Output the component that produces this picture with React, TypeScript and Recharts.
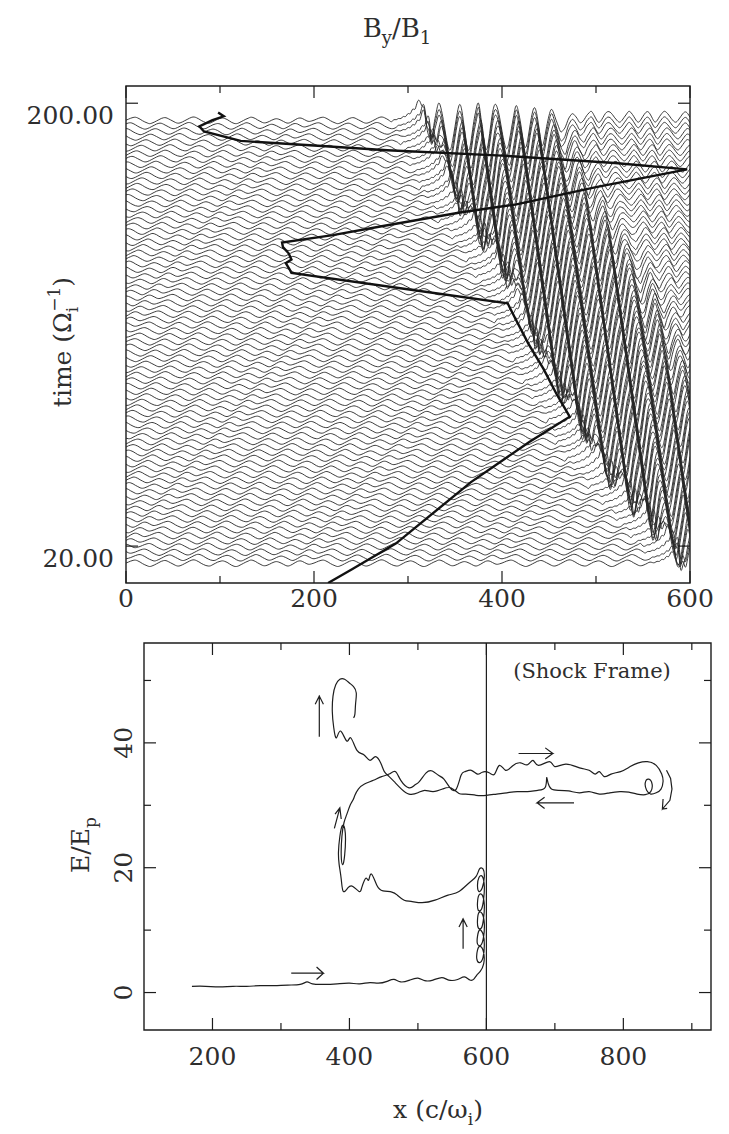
import React from "react";
import {
  LineChart,
  Line,
  XAxis,
  YAxis,
  ReferenceArea,
  ReferenceLine,
} from "recharts";

const INK = "#1c1c1c";
const TEXT = "#2e2e2e";
const SERIF = "'DejaVu Serif', serif";

// ---------- top panel: stack of B_y/B_1 snapshots ----------
// snapshot times (1/Omega_i), bottom to top
const TRACE_TIMES = [
  20, 22.25, 24.5, 26.75, 29, 31.25, 33.5, 35.75, 38, 40.25,
  42.5, 44.75, 47, 49.25, 51.5, 53.75, 56, 58.25, 60.5, 62.75,
  65, 67.25, 69.5, 71.75, 74, 76.25, 78.5, 80.75, 83, 85.25,
  87.5, 89.75, 92, 94.25, 96.5, 98.75, 101, 103.25, 105.5, 107.75,
  110, 112.25, 114.5, 116.75, 119, 121.25, 123.5, 125.75, 128, 130.25,
  132.5, 134.75, 137, 139.25, 141.5, 143.75, 146, 148.25, 150.5, 152.75,
  155, 157.25, 159.5, 161.75, 164, 166.25, 168.5, 170.75, 173, 175.25,
  177.5, 179.75, 182, 184.25, 186.5, 188.75, 191, 193.25, 195.5, 197.75,
  200,
];
// each snapshot is drawn a little below its time tick
const TRACE_LIFT = -7;
// x where each snapshot starts to rise into the shock (foot)
const FRONT_X = [
  560, 560, 555, 550, 545, 540, 535, 530, 525, 520,
  515, 510, 505, 500, 495, 490, 485, 480, 475, 470,
  465, 465, 460, 460, 455, 455, 450, 445, 445, 440,
  435, 435, 430, 425, 420, 420, 415, 415, 410, 410,
  405, 405, 400, 400, 395, 395, 390, 390, 385, 385,
  380, 380, 375, 370, 370, 365, 360, 355, 355, 350,
  345, 340, 335, 330, 330, 325, 320, 320, 315, 315,
  310, 310, 305, 305, 300, 300, 295, 295, 290, 290,
  285,
];
// upstream ripple, one value every 2.5 c/omega_i (drawn in time units)
const UPSTREAM_RIPPLE = [
  0.1, 0.5, 0.9, 1.2, 1.3, 1.0, 0.5, -0.1, -0.6, -1.0,
  -1.3, -1.1, -0.7, -0.2, 0.3, 0.8, 1.1, 1.1, 0.7, 0.2,
  -0.3, -0.8, -1.1, -1.0, -0.6, -0.1, 0.4, 0.9, 1.3, 1.4,
  1.1, 0.6, 0.0, -0.5, -0.9, -1.1, -1.0, -0.5, 0.0, 0.5,
  0.8, 1.0, 0.8, 0.4, -0.2, -0.8, -1.2, -1.3, -1.0, -0.5,
  0.0, 0.5, 0.9, 1.3, 1.2, 0.8, 0.2, -0.3, -0.8, -1.0,
  -0.8, -0.4, 0.1, 0.5, 0.7, 0.5, 0.1, -0.4, -0.9, -1.1,
  -0.8, -0.3, 0.3, 0.8, 1.0, 0.8, 0.3, -0.2, -0.4, -0.2,
];
const RIPPLE_DRIFT = 2; // samples per snapshot
// mean level behind the foot, one value every 5 c/omega_i
const SHOCK_LEVEL = [
  0.3, 0.8, 1.6, 2.8, 4.6, 7.5, 3.0, -1.0, -2.0, -2.5,
  -2.5, -2.5, -2.5, -2.5, -2.5, -2.5, -2.5, -2.5, -2.5, -2.5,
  -2.5, -2.5, -2.5, -2.5, -2.5, -2.5, -2.5, -2.5, -2.5, -2.5,
  -2.5, -2.5, -2.5, -2.0, -1.5, -1.0, -0.5, 0.0, 0.5, 1.0,
  1.5, 1.5, 1.5, 1.5, 1.5, 1.5, 1.5, 1.5, 1.5, 1.5,
  1.5, 1.5, 1.5, 1.5, 1.5, 1.5, 1.5, 1.5, 1.5, 1.5,
  1.5, 1.5, 1.5, 1.5, 1.5, 1.5, 1.5,
];
// half swing of the downstream wave behind the foot
const SHOCK_SWING = [
  0, 0, 0, 0, 0, 0.5, 3.0, 6.0, 8.5, 9.5,
  9.5, 10, 9.5, 9.5, 10, 9.5, 9.5, 10, 9.5, 9.0,
  9.5, 9.5, 9.0, 9.5, 9.0, 9.0, 8.5, 9.0, 8.5, 8.5,
  8.0, 8.0, 7.5, 6.5, 5.5, 4.5, 3.5, 3.0, 2.5, 2.2,
  2.2, 2.2, 2.2, 2.2, 2.2, 2.2, 2.2, 2.2, 2.2, 2.2,
  2.2, 2.2, 2.2, 2.2, 2.2, 2.2, 2.2, 2.2, 2.2, 2.2,
  2.2, 2.2, 2.2, 2.2, 2.2, 2.2, 2.2,
];
// downstream wave shape, one value every 2.5 c/omega_i, drifting slowly left
const DOWNSTREAM_WAVE = [
  1.0, 0.7, 0.1, -0.6, -1.0, -0.6, 0.1, 0.7,
  0.95, 0.5, -0.3, -0.95, -0.7, 0.0, 0.6,
  1.0, 0.8, 0.3, -0.3, -0.8, -1.0, -0.6, 0.0, 0.6,
  0.9, 0.6, -0.1, -0.8, -1.0, -0.5, 0.2, 0.7,
  1.0, 0.4, -0.4, -1.0, -0.8, -0.1, 0.6,
  0.95, 0.85, 0.4, -0.2, -0.7, -1.0, -0.7, -0.1, 0.5,
];
const WAVE_DRIFT_EVERY = 3; // snapshots per 2.5 c/omega_i of drift
const X_STEP = 2.5;
const LEVEL_STEP = 5;
const X_MAX = 600;
// ion orbit x(t), [x, t]
const ORBIT_XT = [
  [215, 5], [240, 10.5], [287, 21], [367, 46], [429, 62.3], [472, 72.6],
  [458, 81.8], [444, 92.1], [428, 102.3], [414, 112.6], [406, 118.7],
  [290, 124.9], [176, 131], [174, 132.5], [170, 135], [176, 136.5],
  [173, 139], [167, 141.5], [166, 143.4], [220, 146.4], [272, 150],
  [357, 155.7], [414, 158.8], [500, 165.9], [597, 173.1], [520, 175.7],
  [400, 178.7], [278, 180.9], [200, 182.8], [122, 184.7], [83, 188.5],
  [78, 190.6], [92, 193.1], [104, 194.7], [98, 196.2],
];
const TOP_X_TICKS = [0, 100, 200, 300, 400, 500, 600];
const TOP_X_MAJOR = [0, 200, 400, 600];
const TOP_T_TICKS = [20, 200];

// ---------- bottom panel: E/E_p vs x in the shock frame ----------
const ENERGY_PATH = [
  [170, 1.0], [190, 1.0], [210, 0.9], [230, 1.0], [250, 1.0], [270, 1.1],
  [290, 1.1], [310, 1.2], [328, 1.3], [338, 1.7], [346, 1.4], [362, 1.3],
  [382, 1.4], [400, 1.5], [415, 1.4], [430, 1.6], [442, 1.5], [455, 1.8],
  [465, 2.1], [475, 1.7], [488, 2.0], [500, 2.3], [510, 1.9], [522, 2.0],
  [535, 2.4], [545, 2.0], [558, 2.1], [568, 2.5], [576, 2.0], [582, 2.2],
  [586, 2.8], [591, 3.4], [596, 4.6], [596, 6.4], [591, 7.4], [587, 6.8],
  [586, 5.4], [590, 4.8], [595, 5.6], [597, 7.6], [595, 9.4], [590, 10.0],
  [587, 9.0], [587, 7.8], [592, 7.6], [596, 9.0], [597, 11.0], [594, 12.6],
  [589, 12.8], [587, 11.6], [588, 10.4], [593, 10.4], [596, 12.0], [597, 14.0],
  [594, 15.6], [589, 15.6], [587, 14.4], [588, 13.2], [593, 13.4], [596, 15.0],
  [597, 17.0], [594, 18.6], [589, 18.4], [587, 17.2], [589, 16.2], [594, 16.8],
  [597, 18.6], [595, 19.8], [590, 19.8],
  [585, 18.6], [575, 17.6], [560, 16.2], [544, 15.6], [525, 14.8], [506, 14.4],
  [490, 14.6], [480, 14.8], [470, 15.6], [462, 16.1], [449, 16.3], [440, 17.2],
  [432, 19.0], [428, 18.0], [424, 18.3], [418, 16.8], [414, 16.2], [405, 17.0],
  [398, 16.8], [391, 16.2], [388, 18.2], [385, 20.5],
  [384, 22.5], [386, 25.0], [390, 26.8], [394, 25.5], [393, 22.0], [390, 20.5],
  [388, 22.0], [389, 25.0], [392, 27.2],
  [396, 28.5], [401, 30.0], [405, 30.8], [408, 31.6], [413, 32.6], [422, 33.4],
  [435, 34.0], [447, 34.6],
  [458, 35.0], [467, 35.4], [475, 34.0], [487, 32.8], [495, 33.2], [502, 33.8],
  [512, 35.2], [521, 35.5], [530, 34.8], [538, 34.2], [547, 32.8], [556, 32.6],
  [563, 34.8], [569, 35.4], [578, 35.6], [587, 35.0], [594, 35.3], [604, 35.2],
  [612, 35.0], [619, 36.4], [628, 35.6], [638, 36.3], [650, 36.8], [660, 36.5],
  [668, 37.2], [676, 36.4], [692, 37.0], [700, 36.2], [716, 36.6], [736, 36.0],
  [750, 35.6], [759, 35.0], [765, 35.4], [772, 34.6], [782, 35.0], [796, 35.4],
  [810, 36.2], [822, 36.8], [835, 37.0], [848, 36.4], [856, 35.0],
  [858, 33.8], [855, 32.6], [848, 32.0], [840, 31.8], [834, 32.4], [832, 33.6],
  [837, 34.2], [842, 33.4], [840, 32.2], [832, 31.7], [820, 31.8], [808, 32.1],
  [795, 32.2], [780, 32.0], [765, 31.8], [750, 32.2], [736, 32.0], [720, 32.3],
  [705, 32.4], [695, 32.6], [690, 33.6], [688, 34.4], [686, 32.9], [675, 32.4],
  [660, 32.2], [645, 32.2], [630, 32.0], [615, 31.8], [600, 31.6], [585, 31.6],
  [570, 31.8], [560, 31.9], [548, 32.8], [536, 32.6], [522, 32.2], [510, 32.4],
  [500, 32.0], [487, 31.8], [476, 32.6], [467, 33.6], [458, 34.6], [451, 35.4],
  [446, 36.7], [438, 37.8], [430, 37.2], [421, 38.1], [411, 38.8], [402, 40.8],
  [396, 40.3], [387, 41.9], [381, 40.8], [377, 42.5],
  [375, 45.0], [376, 47.5], [380, 49.3], [386, 50.2], [393, 50.2], [400, 49.6],
  [406, 49.0], [410, 48.0], [409, 46.3], [408, 44.6], [406, 44.0],
];
// direction arrows drawn on the orbit, [x, E] polylines
const ARROWS = [
  [[315, 3.1], [362, 3.1], [352, 4.1], [362, 3.1], [352, 2.1]],
  [[566, 7.0], [566, 11.8], [560, 10.5], [566, 11.8], [572, 10.5]],
  [[378, 26.3], [386, 29.6], [379, 28.6], [386, 29.6], [388, 27.8]],
  [[356, 41.0], [356, 47.5], [350, 46.2], [356, 47.5], [362, 46.2]],
  [[647, 38.3], [697, 38.3], [686, 39.2], [697, 38.3], [686, 37.4]],
  [[728, 30.4], [674, 30.4], [685, 31.3], [674, 30.4], [685, 29.5]],
  [[863, 35.6], [869, 34.3], [871, 32.6], [868, 30.8], [857, 29.4], [858, 31.0], [857, 29.4], [864, 29.5]],
];
const SHOCK_X = 600;
const BOTTOM_X_TICKS = [200, 300, 400, 500, 600, 700, 800, 900];
const BOTTOM_X_MAJOR = [200, 400, 600, 800];
const BOTTOM_E_TICKS = [0, 10, 20, 30, 40, 50];
const BOTTOM_E_MAJOR = [0, 20, 40];

// plot boxes in each chart's own pixel frame
const TOP_BOX = { left: 126, right: 690, top: 86, bottom: 583 };
const BOT_BOX = { left: 144, right: 711, top: 43, bottom: 430 };
const BOT_OFFSET = 600;

const xs: number[] = [];
for (let x = 0; x <= X_MAX; x += X_STEP) xs.push(x);

const wrap = (k: number, n: number) => ((k % n) + n) % n;

const traces = TRACE_TIMES.map((t, i) =>
  xs.map((x, k) => {
    let v;
    if (x < FRONT_X[i]) {
      v = UPSTREAM_RIPPLE[wrap(k - RIPPLE_DRIFT * i, UPSTREAM_RIPPLE.length)];
    } else {
      const j = Math.min(Math.floor((x - FRONT_X[i]) / LEVEL_STEP), SHOCK_LEVEL.length - 1);
      const shift = Math.floor(i / WAVE_DRIFT_EVERY);
      const w = DOWNSTREAM_WAVE[wrap(k + shift, DOWNSTREAM_WAVE.length)];
      v = SHOCK_LEVEL[j] + SHOCK_SWING[j] * w;
    }
    return { x, y: t + TRACE_LIFT + v };
  })
);
const orbit = ORBIT_XT.map(([x, t]) => ({ x, y: t }));
const energy = ENERGY_PATH.map(([x, e]) => ({ x, y: e }));
const arrows = ARROWS.map((a) => a.map(([x, e]) => ({ x, y: e })));

const xTick = (box: any, majors: number[], labelY: number) => (props: any) => {
  const { x, payload } = props;
  const v = payload.value;
  const len = majors.includes(v) ? 12 : 7;
  return (
    <g>
      <line x1={x} x2={x} y1={box.bottom} y2={box.bottom - len} stroke={INK} strokeWidth={1.2} />
      <line x1={x} x2={x} y1={box.top} y2={box.top + len} stroke={INK} strokeWidth={1.2} />
      {majors.includes(v) && (
        <text x={x} y={labelY} textAnchor="middle" fontFamily={SERIF} fontSize={25} fill={TEXT}>
          {v}
        </text>
      )}
    </g>
  );
};

const topYTick = (props: any) => {
  const { y, payload } = props;
  return (
    <g>
      <line x1={TOP_BOX.left} x2={TOP_BOX.left + 12} y1={y} y2={y} stroke={INK} strokeWidth={1.2} />
      <line x1={TOP_BOX.right} x2={TOP_BOX.right - 12} y1={y} y2={y} stroke={INK} strokeWidth={1.2} />
      <text x={TOP_BOX.left - 12} y={y + 21} textAnchor="end" fontFamily={SERIF} fontSize={25} fill={TEXT}>
        {payload.value.toFixed(2)}
      </text>
    </g>
  );
};

const botYTick = (props: any) => {
  const { y, payload } = props;
  const v = payload.value;
  const major = BOTTOM_E_MAJOR.includes(v);
  const len = major ? 12 : 7;
  return (
    <g>
      <line x1={BOT_BOX.left} x2={BOT_BOX.left + len} y1={y} y2={y} stroke={INK} strokeWidth={1.2} />
      <line x1={BOT_BOX.right} x2={BOT_BOX.right - len} y1={y} y2={y} stroke={INK} strokeWidth={1.2} />
      {major && (
        <text
          transform={`translate(${BOT_BOX.left - 21}, ${y}) rotate(-90)`}
          textAnchor="middle"
          dy="0.36em"
          fontFamily={SERIF}
          fontSize={25}
          fill={TEXT}
        >
          {v}
        </text>
      )}
    </g>
  );
};

const StackPanel = () => (
  <LineChart width={729} height={640} margin={{ top: 86, right: 39, left: 0, bottom: 0 }}>
    <XAxis
      dataKey="x"
      type="number"
      domain={[0, 600]}
      ticks={TOP_X_TICKS}
      interval={0}
      allowDataOverflow
      height={57}
      axisLine={false}
      tickLine={false}
      tick={xTick(TOP_BOX, TOP_X_MAJOR, 607)}
    />
    <YAxis
      type="number"
      domain={[5, 207]}
      ticks={TOP_T_TICKS}
      interval={0}
      allowDataOverflow
      width={126}
      axisLine={false}
      tickLine={false}
      tick={topYTick}
    />
    {traces.map((rows, i) => (
      <Line
        key={i}
        data={rows}
        dataKey="y"
        type="natural"
        stroke="#262626"
        strokeWidth={0.9}
        dot={false}
        activeDot={false}
        isAnimationActive={false}
      />
    ))}
    <Line
      data={orbit}
      dataKey="y"
      type="linear"
      stroke="#111"
      strokeWidth={2.4}
      dot={false}
      activeDot={false}
      isAnimationActive={false}
    />
    <ReferenceArea x1={0} x2={600} y1={5} y2={207} fill="none" stroke={INK} strokeWidth={1.4} ifOverflow="visible" />
  </LineChart>
);

const EnergyPanel = () => (
  <LineChart width={729} height={534} margin={{ top: 43, right: 18, left: 0, bottom: 0 }}>
    <XAxis
      dataKey="x"
      type="number"
      domain={[100, 928]}
      ticks={BOTTOM_X_TICKS}
      interval={0}
      allowDataOverflow
      height={104}
      axisLine={false}
      tickLine={false}
      tick={xTick(BOT_BOX, BOTTOM_X_MAJOR, 465)}
    />
    <YAxis
      type="number"
      domain={[-6, 56]}
      ticks={BOTTOM_E_TICKS}
      interval={0}
      allowDataOverflow
      width={144}
      axisLine={false}
      tickLine={false}
      tick={botYTick}
    />
    <ReferenceLine x={SHOCK_X} stroke={INK} strokeWidth={1.2} />
    <Line
      data={energy}
      dataKey="y"
      type="natural"
      stroke="#1e1e1e"
      strokeWidth={1.2}
      dot={false}
      activeDot={false}
      isAnimationActive={false}
    />
    {arrows.map((rows, i) => (
      <Line
        key={i}
        data={rows}
        dataKey="y"
        type="linear"
        stroke="#1e1e1e"
        strokeWidth={1.2}
        dot={false}
        activeDot={false}
        isAnimationActive={false}
      />
    ))}
    <ReferenceArea x1={100} x2={928} y1={-6} y2={56} fill="none" stroke={INK} strokeWidth={1.4} ifOverflow="visible" />
  </LineChart>
);

export default function App() {
  return (
    <div style={{ position: "absolute", left: 0, top: 0, width: 729, height: 1134, background: "#fff" }}>
      <div style={{ position: "absolute", left: 0, top: 0 }}>
        <StackPanel />
      </div>
      <div style={{ position: "absolute", left: 0, top: BOT_OFFSET }}>
        <EnergyPanel />
      </div>
      <svg
        width={729}
        height={1134}
        style={{ position: "absolute", left: 0, top: 0, pointerEvents: "none" }}
        fontFamily={SERIF}
        fill={TEXT}
      >
        <text x={397} y={37} textAnchor="middle" fontSize={26}>
          B<tspan dy={7} fontSize={18}>y</tspan>
          <tspan dy={-7}>/B</tspan>
          <tspan dy={7} fontSize={18}>1</tspan>
        </text>
        <text transform="translate(71, 342) rotate(-90)" textAnchor="middle" fontSize={25}>
          time (Ω<tspan dy={7} fontSize={17}>i</tspan>
          <tspan dx={-5} dy={-18} fontSize={17}>−1</tspan>
          <tspan dy={11}>)</tspan>
        </text>
        <text transform="translate(89, 845) rotate(-90)" textAnchor="middle" fontSize={25}>
          E/E<tspan dy={7} fontSize={17}>p</tspan>
        </text>
        <text x={438} y={1118} textAnchor="middle" fontSize={25}>
          x (c/ω<tspan dy={7} fontSize={17}>i</tspan>
          <tspan dy={-7}>)</tspan>
        </text>
        <text x={592} y={678} textAnchor="middle" fontSize={21}>
          (Shock Frame)
        </text>
      </svg>
    </div>
  );
}
